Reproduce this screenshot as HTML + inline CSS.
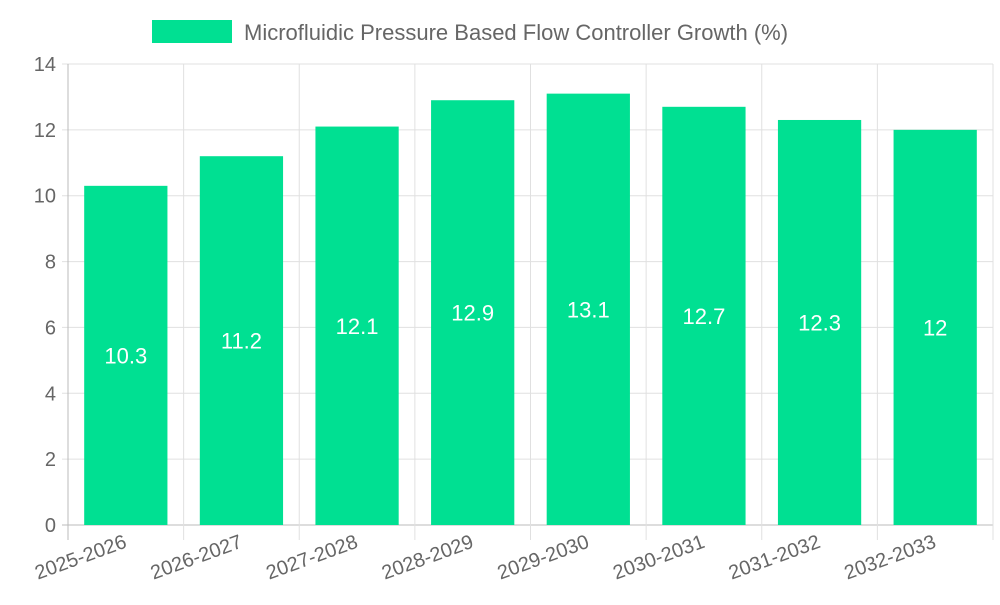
<!DOCTYPE html>
<html><head><meta charset="utf-8"><style>
body{margin:0;background:#fff;width:1000px;height:600px;overflow:hidden;font-family:"Liberation Sans",sans-serif}
</style></head><body>
<svg id="chart" width="1000" height="600" xmlns="http://www.w3.org/2000/svg"></svg>
<script>
const categories=["2025-2026","2026-2027","2027-2028","2028-2029","2029-2030","2030-2031","2031-2032","2032-2033"];
const values=[10.3,11.2,12.1,12.9,13.1,12.7,12.3,12];
const valueLabels=["10.3","11.2","12.1","12.9","13.1","12.7","12.3","12"];
const yTicks=[0,2,4,6,8,10,12,14];
const svg=document.getElementById('chart');
const NS="http://www.w3.org/2000/svg";
const L=68,R=993,T=64,B=525,yMax=14;
const band=(R-L)/categories.length;
const y=v=>B-(v/yMax)*(B-T);
const xc=i=>L+band*(i+0.5);
function mk(tag,attrs,txt){const e=document.createElementNS(NS,tag);for(const k in attrs)e.setAttribute(k,attrs[k]);if(txt!==undefined)e.textContent=txt;svg.appendChild(e);return e;}
// grid
yTicks.forEach(t=>{
 const g=mk('line',{x1:L-6,x2:R,y1:y(t),y2:y(t),stroke:t===0?'#bbb':'#e0e0e0','stroke-width':1});
 
 const tx=mk('text',{x:L-12,y:y(t)+7,'text-anchor':'end','font-size':20,fill:'#666'},t);
 
});
for(let i=0;i<=categories.length;i++){
 const x=L+band*i;
 const g=mk('line',{x1:x,x2:x,y1:T,y2:B+15,stroke:i===0?'#bbb':'#e0e0e0','stroke-width':1});
 
}
categories.forEach((c,i)=>{
 const bw=band*0.72;
 const r=mk('rect',{x:xc(i)-bw/2,y:y(values[i]),width:bw,height:B-y(values[i]),fill:'#00e092'});
 
 const v=mk('text',{x:xc(i),y:(y(values[i])+B)/2+8,'text-anchor':'middle','font-size':22,fill:'#fff'},valueLabels[i]);
 
 const xl=mk('text',{x:xc(i)+2,y:B+22,'text-anchor':'end','font-size':20,fill:'#666',transform:`rotate(-20 ${xc(i)+2} ${B+22})`},c);
 
});
const lb=mk('rect',{x:152,y:20,width:80,height:23,fill:'#00e092'});

const lt=mk('text',{x:244,y:40,'font-size':22,fill:'#666'},'Microfluidic Pressure Based Flow Controller Growth (%)');

</script>
</body></html>
